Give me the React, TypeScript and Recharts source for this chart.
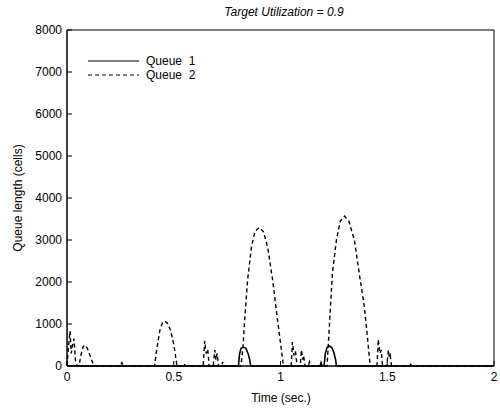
import { LineChart, Line, XAxis, YAxis, ReferenceArea } from "recharts";

// time (sec.) and queue length (cells)
const queue1T = [0, 0.803, 0.808, 0.815, 0.825, 0.838, 0.848, 0.856, 0.86, 1.185, 1.19, 1.195, 1.204, 1.21, 1.218, 1.229, 1.24, 1.25, 1.258, 1.262, 2];
const queue1Y = [0, 0, 280, 420, 450, 420, 300, 150, 0, 0, 80, 0, 0, 300, 440, 475, 440, 320, 150, 0, 0];

const queue2T = [
  0, 0.006, 0.014, 0.02, 0.026, 0.033, 0.04, 0.048, 0.056, 0.065, 0.075, 0.084, 0.095, 0.11, 0.126,
  0.25, 0.257, 0.264,
  0.41, 0.418, 0.425, 0.435, 0.447, 0.458, 0.47, 0.485, 0.5, 0.508, 0.515,
  0.545, 0.55, 0.555,
  0.638, 0.645, 0.652, 0.659, 0.666, 0.685, 0.692, 0.698, 0.703, 0.71, 0.724, 0.729, 0.734,
  0.815, 0.825, 0.832, 0.846, 0.864, 0.88, 0.9, 0.92, 0.94, 0.963, 0.986, 1.0, 1.014,
  1.05, 1.056, 1.063, 1.07, 1.078, 1.092, 1.098, 1.104, 1.108, 1.115, 1.13, 1.136, 1.142,
  1.218, 1.226, 1.234, 1.243, 1.262, 1.28, 1.3, 1.32, 1.346, 1.369, 1.393, 1.405, 1.42,
  1.452, 1.458, 1.465, 1.472, 1.478, 1.498, 1.505, 1.51, 1.514, 1.52,
  1.605, 1.61, 1.615, 2,
];
const queue2Y = [
  0, 400, 830, 300, 500, 650, 100, 0, 0, 250, 450, 500, 420, 220, 0,
  0, 80, 0,
  0, 300, 550, 850, 1030, 1070, 1020, 850, 520, 250, 0,
  0, 50, 0,
  0, 600, 300, 400, 0, 0, 380, 150, 300, 0, 0, 100, 0,
  0, 500, 1100, 2050, 2830, 3200, 3300, 3200, 2830, 2050, 1100, 550, 0,
  0, 570, 250, 350, 0, 0, 380, 150, 250, 0, 0, 100, 0,
  0, 700, 1400, 2200, 3000, 3450, 3570, 3450, 3000, 2200, 1400, 800, 0,
  0, 640, 300, 380, 0, 0, 380, 200, 250, 0,
  0, 40, 0, 0,
];

const xTicks = [0, 0.5, 1, 1.5, 2];
const yTicks = [0, 1000, 2000, 3000, 4000, 5000, 6000, 7000, 8000];

const series = [
  { name: "Queue  1", dash: undefined },
  { name: "Queue  2", dash: "4 3" },
];

const q1 = queue1T.map((t, i) => ({ t, v: queue1Y[i] }));
const q2 = queue2T.map((t, i) => ({ t, v: queue2Y[i] }));

const font = "'Liberation Sans', Arial, sans-serif";
const tickStyle = { fontSize: 12, fill: "#000", fontFamily: font };

function LegendBox() {
  return (
    <svg width={130} height={36} style={{ position: "absolute", left: 88, top: 53 }}>
      {series.map((s, i) => (
        <g key={s.name}>
          <line x1={0} x2={51} y1={8 + i * 14} y2={8 + i * 14} stroke="#000" strokeWidth={1.2} strokeDasharray={s.dash} />
          <text x={58} y={12 + i * 14} fontSize={12} fontFamily={font} style={{ whiteSpace: "pre" }}>{s.name}</text>
        </g>
      ))}
    </svg>
  );
}

export default function App() {
  return (
    <div style={{ position: "absolute", left: 0, top: 0, width: 500, height: 409, background: "#fff", fontFamily: font }}>
      <LineChart width={500} height={409} margin={{ top: 30, right: 6, bottom: 13, left: 27 }} style={{ position: "absolute", left: 0, top: 0 }}>
        <XAxis dataKey="t" type="number" domain={[0, 2]} ticks={xTicks}
          tickSize={-5} tickMargin={11} height={30} stroke="#000" tick={tickStyle} />
        <YAxis type="number" domain={[0, 8000]} ticks={yTicks} tickSize={-5} tickMargin={10} width={40}
          stroke="#000" tick={tickStyle} />
        <ReferenceArea x1={0} x2={2} y1={0} y2={8000} fill="none" stroke="#000" strokeWidth={1} ifOverflow="visible" />
        <Line data={q1} dataKey="v" type="linear" stroke="#000" strokeWidth={1.6} dot={false} isAnimationActive={false} />
        <Line data={q2} dataKey="v" type="linear" stroke="#000" strokeWidth={1.4} strokeDasharray="4 3" dot={false} isAnimationActive={false} />
      </LineChart>
      <div style={{ position: "absolute", left: 0, width: 568, top: 5, textAlign: "center", fontSize: 12, fontStyle: "italic" }}>
        Target Utilization = 0.9
      </div>
      <div style={{ position: "absolute", left: 0, width: 562, top: 391, textAlign: "center", fontSize: 12 }}>
        Time (sec.)
      </div>
      <div style={{ position: "absolute", left: 18, top: 198, fontSize: 12, whiteSpace: "nowrap", transform: "translate(-50%, -50%) rotate(-90deg)" }}>
        Queue length (cells)
      </div>
      <LegendBox />
    </div>
  );
}
